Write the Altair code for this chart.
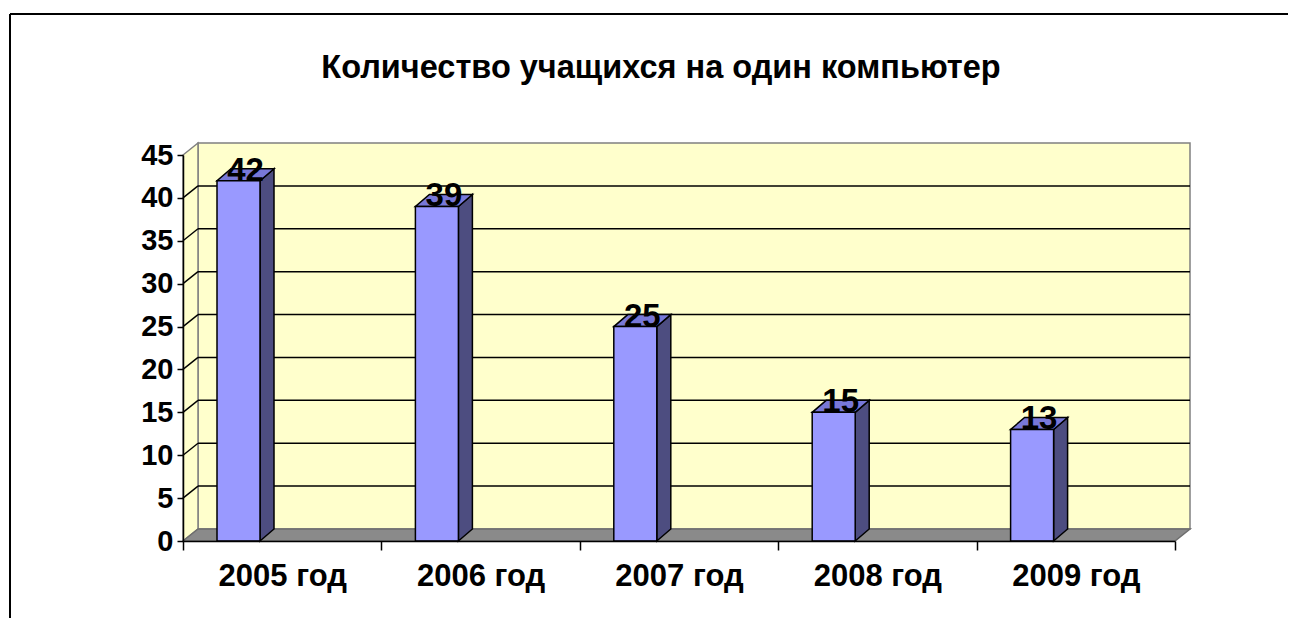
import altair as alt
import pandas as pd

# ---- data ----
years = ["2005 год", "2006 год", "2007 год", "2008 год", "2009 год"]
values = [42, 39, 25, 15, 13]
y_ticks = [0, 5, 10, 15, 20, 25, 30, 35, 40, 45]
chart_title = "Количество учащихся на один компьютер"

# ---- geometry (style constants) ----
N = len(years)
YMAX = 45
W, H = 992, 386
UX = W / N          # px per category
UY = H / YMAX       # px per value unit
WDX = 15 / UX       # wall depth
WDY = 12 / UY
BX0 = 34 / UX       # bar offset inside band
BW = 43 / UX        # bar width
BDX = 14 / UX       # bar depth
BDY = 12 / UY

FONT = "Liberation Sans"
GRAY = "#808080"
WALL = "#FFFFCC"

xs = alt.Scale(domain=[0, N], nice=False, zero=False)
ys = alt.Scale(domain=[0, YMAX], nice=False, zero=False)

label_arr = "[" + ",".join("'" + s + "'" for s in years) + "]"
x_axis = alt.Axis(
    values=[i * 0.5 for i in range(2 * N + 1)],
    labelExpr=f"(datum.value % 1 == 0.5) ? {label_arr}[floor(datum.value)] : ''",
    tickOpacity={"condition": {"test": "datum.value % 1 != 0", "value": 0}, "value": 1},
    tickSize=9, tickColor="black", tickWidth=1.5,
    domainColor="black", domainWidth=1.5,
    labelFont=FONT, labelFontSize=31, labelFontWeight="bold", labelColor="black",
    labelPadding=11, labelFlush=False, labelOverlap=False,
    grid=False, title=None, zindex=1,
)
y_axis = alt.Axis(
    values=y_ticks, tickSize=6, tickColor="black", tickWidth=1.5,
    domainColor="black", domainWidth=1.5,
    labelFont=FONT, labelFontSize=29, labelFontWeight="bold", labelColor="black",
    labelPadding=4, labelFlush=False, labelOverlap=False,
    grid=False, title=None, zindex=1,
)

X = lambda: alt.X("x:Q", scale=xs, axis=x_axis)
Y = lambda: alt.Y("y:Q", scale=ys, axis=y_axis)

# back wall
back_df = pd.DataFrame({"x": [WDX], "x2": [N + WDX], "y": [WDY], "y2": [YMAX + WDY]})
back = alt.Chart(back_df).mark_rect(fill=WALL, stroke=GRAY, strokeWidth=1.5).encode(
    x=X(), x2="x2:Q", y=Y(), y2="y2:Q")

# left wall
left_df = pd.DataFrame({"x": [0, WDX], "y": [0, WDY], "y2": [YMAX, YMAX + WDY]})
left = alt.Chart(left_df).mark_area(orient="vertical", fill=WALL, stroke=GRAY, strokeWidth=1.5).encode(
    x=X(), y=Y(), y2="y2:Q")

# floor
floor_df = pd.DataFrame({"x": [0, WDX, N, N + WDX], "y": [0, 0, 0, WDY], "y2": [0, WDY, WDY, WDY]})
floor = alt.Chart(floor_df).mark_area(orient="vertical", fill="#8A8A8A", stroke="#6E6E6E", strokeWidth=1.5).encode(
    x=X(), y=Y(), y2="y2:Q")

# gridlines
gv = [v for v in y_ticks if 0 < v < YMAX]
grid_back_df = pd.DataFrame({"x": [WDX] * len(gv), "x2": [N + WDX] * len(gv), "y": [v + WDY for v in gv]})
grid_back = alt.Chart(grid_back_df).mark_rule(color="black", strokeWidth=1.5).encode(
    x=X(), x2="x2:Q", y=Y())
grid_diag_df = pd.DataFrame({"x": [0] * len(gv), "x2": [WDX] * len(gv), "y": gv, "y2": [v + WDY for v in gv]})
grid_diag = alt.Chart(grid_diag_df).mark_rule(color="black", strokeWidth=1.5).encode(
    x=X(), x2="x2:Q", y=Y(), y2="y2:Q")

# bars
front_rows, side_rows, top_rows, lab_rows = [], [], [], []
for i, (name, v) in enumerate(zip(years, values)):
    xl = i + BX0
    xr = xl + BW
    front_rows.append({"x": xl, "x2": xr, "y": 0, "y2": v, "bar": name})
    side_rows += [{"x": xr, "y": 0, "y2": v, "bar": name},
                  {"x": xr + BDX, "y": BDY, "y2": v + BDY, "bar": name}]
    top_rows += [{"x": xl, "y": v, "y2": v, "bar": name},
                 {"x": xl + BDX, "y": v, "y2": v + BDY, "bar": name},
                 {"x": xr, "y": v, "y2": v + BDY, "bar": name},
                 {"x": xr + BDX, "y": v + BDY, "y2": v + BDY, "bar": name}]
    lab_rows.append({"x": xl + BW / 2 + BDX / 2, "y": v, "label": str(v)})

side = alt.Chart(pd.DataFrame(side_rows)).mark_area(
    orient="vertical", fill="#4D4D80", stroke="black", strokeWidth=1.5).encode(
    x=X(), y=Y(), y2="y2:Q", detail="bar:N")
top = alt.Chart(pd.DataFrame(top_rows)).mark_area(
    orient="vertical", fill="#7878D8", stroke="black", strokeWidth=1.5).encode(
    x=X(), y=Y(), y2="y2:Q", detail="bar:N")
front = alt.Chart(pd.DataFrame(front_rows)).mark_rect(
    fill="#9999FF", stroke="black", strokeWidth=1.5).encode(
    x=X(), x2="x2:Q", y=Y(), y2="y2:Q")

labels = alt.Chart(pd.DataFrame(lab_rows)).mark_text(
    font=FONT, fontSize=33, fontWeight="bold", color="black",
    align="center", baseline="alphabetic", dy=0).encode(
    x=X(), y=Y(), text="label:N")

# title and frame (decoration)
title_df = pd.DataFrame({"t": [chart_title]})
title = alt.Chart(title_df).mark_text(
    font=FONT, fontSize=32.5, fontWeight="bold", color="black",
    align="center", baseline="alphabetic").encode(
    text="t:N", x=alt.value(478), y=alt.value(-77))

frame_df = pd.DataFrame({"k": ["top", "left"]})
frame_top = alt.Chart(frame_df).mark_rule(color="black", strokeWidth=2).encode(
    x=alt.value(-173), x2=alt.value(1120), y=alt.value(-141))
frame_left = alt.Chart(frame_df).mark_rule(color="black", strokeWidth=2).encode(
    x=alt.value(-173), y=alt.value(-141), y2=alt.value(480))

chart = alt.layer(
    back, left, floor, grid_back, grid_diag, side, top, front, labels, title, frame_top, frame_left
).properties(
    width=W, height=H,
    padding={"left": 175, "top": 147, "right": 113, "bottom": 77},
    autosize=alt.AutoSizeParams(type="none"),
).configure_view(strokeWidth=0)

chart.save("out.html", embed_options={"renderer": "svg", "actions": False})
